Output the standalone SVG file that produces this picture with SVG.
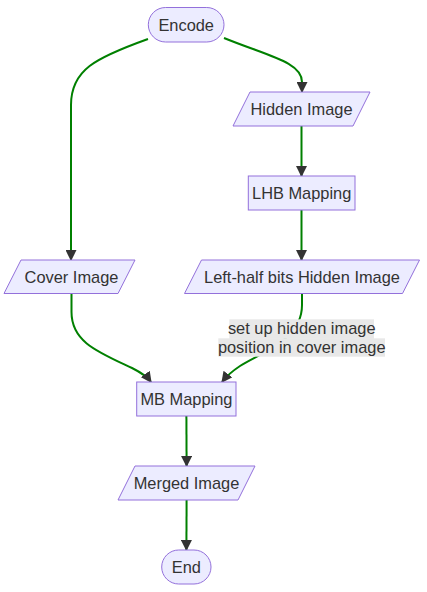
<svg xmlns="http://www.w3.org/2000/svg" width="427" height="592" viewBox="0 0 427 592">
<style>
.node{fill:#ECECFF;stroke:#9370DB;stroke-width:1}
.lbl{font-family:"Liberation Sans",Arial,sans-serif;font-size:16.4px;fill:#333;text-anchor:middle}
.edge{fill:none;stroke:#008000;stroke-width:2}
.elbg{fill:#e8e8e8}
</style>
<defs>
<marker id="arrow" viewBox="0 0 10 10" refX="9" refY="5" markerUnits="userSpaceOnUse" markerWidth="11" markerHeight="11" orient="auto">
<path d="M0,0 L10,5 L0,10 z" fill="#333"/>
</marker>
</defs>
<rect width="427" height="592" fill="#ffffff"/>
<g id="connectors">
<path class="edge" marker-end="url(#arrow)" d="M224,38 C268,56 302,62 302,82 L302,92"/>
<path class="edge" marker-end="url(#arrow)" d="M148,39 C95,58 71,70 71,105 L71,260"/>
<path class="edge" marker-end="url(#arrow)" d="M301.5,126 L301.5,176"/>
<path class="edge" marker-end="url(#arrow)" d="M301.5,210 L301.5,260"/>
<path class="edge" marker-end="url(#arrow)" d="M71.5,293 L71.5,312 C71.5,342 98,352 132,368 Q146,375 151,382"/>
<path class="edge" marker-end="url(#arrow)" d="M302,293 L302,305 C302,340 262,352 240,366 Q228,374 222,382"/>
<path class="edge" marker-end="url(#arrow)" d="M186.4,416 L186.6,466"/>
<path class="edge" marker-end="url(#arrow)" d="M186.6,500 L186.4,550"/>
<g id="edge-label">
<rect class="elbg" x="229.3" y="319.3" width="144.7" height="19.5"/>
<rect class="elbg" x="218.3" y="338.3" width="166.7" height="18.4"/>
<text class="lbl" x="301.7" y="334">set up hidden image</text>
<text class="lbl" x="301.7" y="352.5">position in cover image</text>
</g>
</g>
<g id="encode">
<rect class="node" x="148.3" y="7.5" width="75.7" height="34.5" rx="17.25" ry="17.25"/>
<text class="lbl" x="186.2" y="30.5">Encode</text>
</g>
<g id="hidden-image">
<polygon class="node" points="250,92 370,92 353,126 233,126"/>
<text class="lbl" x="301.5" y="114.5">Hidden Image</text>
</g>
<g id="lhb-mapping">
<rect class="node" x="248.3" y="176" width="106.7" height="34"/>
<text class="lbl" x="301.7" y="198.5">LHB Mapping</text>
</g>
<g id="cover-image">
<polygon class="node" points="21,260 135,260 118,293.5 4,293.5"/>
<text class="lbl" x="71.5" y="282.5">Cover Image</text>
</g>
<g id="left-half">
<polygon class="node" points="201.5,260 419.5,260 402.5,293.5 184.5,293.5"/>
<text class="lbl" x="302" y="282.5">Left-half bits Hidden Image</text>
</g>
<g id="mb-mapping">
<rect class="node" x="136.7" y="382" width="99.3" height="34"/>
<text class="lbl" x="186.4" y="404.5">MB Mapping</text>
</g>
<g id="merged-image">
<polygon class="node" points="135,466 255,466 238,500 118,500"/>
<text class="lbl" x="186.5" y="488.5">Merged Image</text>
</g>
<g id="end">
<rect class="node" x="161.7" y="550" width="49.3" height="34" rx="17" ry="17"/>
<text class="lbl" x="186.4" y="572.5">End</text>
</g>
</svg>
